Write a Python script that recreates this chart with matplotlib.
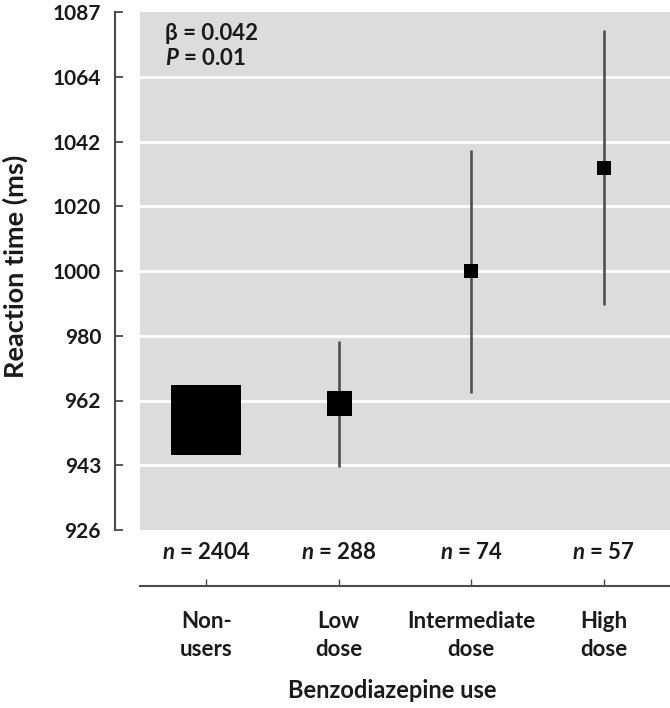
import numpy as np
import matplotlib
matplotlib.use("Agg")
import matplotlib.pyplot as plt

# Datos
groups = ["Non-\nusers", "Low\ndose", "Intermediate\ndose", "High\ndose"]
n_counts = [2404, 288, 74, 57]
rt_mean = [956.4, 961.3, 1000.0, 1033.0]
ci_low = [952.0, 942.6, 964.1, 989.5]
ci_high = [961.0, 978.6, 1039.1, 1080.6]
y_ticks = [926, 943, 962, 980, 1000, 1020, 1042, 1064, 1087]
beta_text = "β = 0.042"
p_text = "0.01"

# Estilo
marker_pt = [50.4, 18.0, 9.4, 10.0]
plt.rcParams['font.family'] = ['Lato', 'DejaVu Sans']
plt.rcParams['font.weight'] = 'bold'
plt.rcParams['mathtext.fontset'] = 'custom'
plt.rcParams['mathtext.it'] = 'Lato:italic:bold'
plt.rcParams['mathtext.rm'] = 'Lato:bold'
text_color = '#1a1a1a'
axis_color = '#4a4a4a'


# Escala del eje: ticks equiespaciados (eje log con etiquetas redondeadas)
tick_idx = np.arange(len(y_ticks), dtype=float)


def forward(v):
    return np.interp(v, y_ticks, tick_idx)


def inverse(p):
    return np.interp(p, tick_idx, y_ticks)


fig = plt.figure(figsize=(6.7, 7.08), dpi=100)
ax = fig.add_axes([140 / 670, (708 - 530) / 708, 530 / 670, 518 / 708])
ax.set_facecolor('#dcdcdc')
ax.set_yscale('function', functions=(forward, inverse))
ax.set_ylim(y_ticks[0], y_ticks[-1])
ax.set_xlim(-0.5, len(groups) - 0.5)

# Lineas de cuadricula blancas
for t in y_ticks[1:-1]:
    ax.axhline(t, color='white', lw=2, zorder=1)

# Intervalos y cuadrados
x = np.arange(len(groups))
for i in range(len(groups)):
    ax.plot([x[i], x[i]], [ci_low[i], ci_high[i]], color='#505050',
            lw=1.9, solid_capstyle='butt', zorder=2)
    ax.plot(x[i], rt_mean[i], marker='s', color='black',
            markersize=marker_pt[i], markeredgewidth=0, zorder=3)

# Ejes
for side in ['top', 'right']:
    ax.spines[side].set_visible(False)
ax.spines['left'].set_position(('outward', 18))
ax.spines['bottom'].set_position(('outward', 40))
ax.spines['left'].set_color(axis_color)
ax.spines['bottom'].set_color(axis_color)
ax.spines['left'].set_linewidth(1.5)
ax.spines['bottom'].set_linewidth(1.5)

ax.set_yticks(y_ticks)
ax.set_yticklabels([str(t) for t in y_ticks])
ax.minorticks_off()
ax.tick_params(axis='y', direction='in', length=6, width=1.3,
               color=axis_color, pad=10, labelsize=15,
               labelcolor=text_color)

ax.set_xticks(x)
ax.set_xticklabels(groups, linespacing=1.38)
ax.tick_params(axis='x', direction='in', length=5, width=1.0,
               color=axis_color, pad=18.5, labelsize=16,
               labelcolor=text_color)

# Etiquetas n
for i in range(len(groups)):
    ax.annotate(f"$n$ = {n_counts[i]}", xy=(x[i], 0),
                xycoords=('data', 'axes fraction'),
                xytext=(0, -16), textcoords='offset points',
                ha='center', va='center', fontsize=16, color=text_color)

# Estadisticos
ax.text(0.047, 0.959, beta_text, transform=ax.transAxes, ha='left',
        va='center', fontsize=16, color=text_color)
ax.text(0.047, 0.910, f"$P$ = {p_text}", transform=ax.transAxes, ha='left',
        va='center', fontsize=16, color=text_color)

ax.set_xlabel("Benzodiazepine use", fontsize=17, color=text_color,
              fontweight='bold', va='center')
ax.xaxis.set_label_coords(0.475, -0.309)
ax.set_ylabel("Reaction time (ms)", fontsize=19.5, color=text_color,
              fontweight='bold', va='center', ha='center')
ax.yaxis.set_label_coords(-0.236, 0.508)

fig.savefig("out.png", dpi=100)
